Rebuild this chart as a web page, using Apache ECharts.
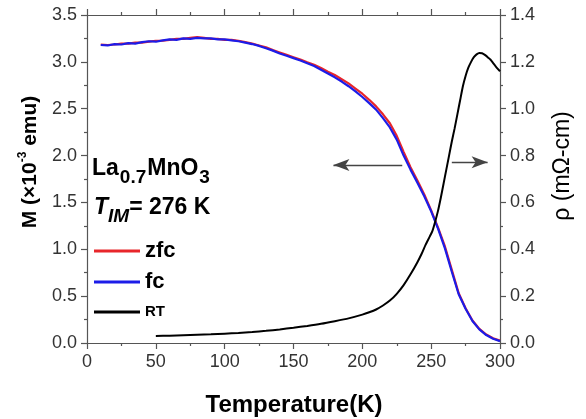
<!DOCTYPE html>
<html>
<head>
<meta charset="utf-8">
<script src="https://cdn.jsdelivr.net/npm/echarts@6/dist/echarts.min.js"></script>
<style>
html,body{margin:0;padding:0;background:#fff;}
#chart{width:586px;height:419px;}
</style>
</head>
<body>
<div id="chart"></div>
<script>
// Magnetization (zfc / fc) vs temperature, 10-300 K
const tempM = [10,15,20,25,30,35,40,45,50,55,60,65,70,75,80,85,90,95,100,105,110,115,120,125,130,135,140,145,150,155,160,165,170,175,180,185,190,195,200,205,210,215,220,225,230,235,240,245,250,255,260,265,270,275,280,285,290,295,300];
const mZfc = [3.185,3.180,3.185,3.195,3.195,3.205,3.205,3.215,3.225,3.225,3.235,3.245,3.245,3.255,3.265,3.255,3.245,3.245,3.235,3.235,3.225,3.210,3.195,3.175,3.155,3.125,3.100,3.075,3.050,3.025,2.995,2.970,2.935,2.895,2.860,2.815,2.770,2.715,2.660,2.595,2.525,2.440,2.345,2.210,2.040,1.875,1.735,1.585,1.415,1.230,1.030,0.780,0.530,0.370,0.240,0.150,0.090,0.050,0.025];
const mFc = [3.180,3.175,3.190,3.185,3.200,3.195,3.210,3.220,3.215,3.230,3.240,3.235,3.250,3.245,3.255,3.250,3.250,3.240,3.240,3.230,3.220,3.205,3.190,3.170,3.145,3.120,3.090,3.065,3.040,3.015,2.985,2.955,2.915,2.875,2.835,2.790,2.740,2.685,2.625,2.560,2.490,2.400,2.300,2.170,2.000,1.850,1.710,1.565,1.405,1.220,1.010,0.760,0.520,0.365,0.235,0.145,0.085,0.045,0.020];

// Resistivity vs temperature, 50-300 K
const tempRT = [50,60,70,80,90,100,110,120,130,140,150,160,170,180,190,200,205,210,215,220,225,230,235,240,243,246,249,251,253,255,257,259,261,263,265,267,269,271,273,275,277,279,281,283,285,287,289,291,293,295,297,300];
const rhoRT = [0.030,0.031,0.033,0.035,0.037,0.040,0.043,0.047,0.052,0.058,0.065,0.073,0.082,0.093,0.105,0.121,0.131,0.143,0.160,0.181,0.210,0.247,0.293,0.345,0.380,0.420,0.455,0.480,0.520,0.565,0.620,0.680,0.740,0.800,0.860,0.915,0.975,1.035,1.095,1.140,1.175,1.200,1.220,1.232,1.238,1.237,1.230,1.220,1.210,1.195,1.180,1.160];

const FONT = '"Liberation Sans", Arial, sans-serif';
const axisGray = '#555';
const labelGray = '#333';

const pairs = (xs, ys) => xs.map((x, i) => [x, ys[i]]);

// Lay out a run of text pieces (main text + subscripts) along a baseline
function textRun(x0, baseline, pieces) {
  const ctx = document.createElement('canvas').getContext('2d');
  const out = [];
  let x = x0;
  pieces.forEach(p => {
    const font = (p.italic ? 'italic ' : '') + 'bold ' + p.size + 'px ' + FONT;
    ctx.font = font;
    const w = ctx.measureText(p.t).width;
    out.push({
      type: 'text', x: x, y: baseline + (p.dy || 0) - 0.35 * p.size,
      style: { text: p.t, font: font, fill: '#000', textAlign: 'left', textVerticalAlign: 'middle' }
    });
    x += w + (p.gap || 0);
  });
  return out;
}

const chart = echarts.init(document.getElementById('chart'), null, { renderer: 'canvas' });

const tickCommon = {
  axisLine: { show: true, onZero: false, lineStyle: { color: axisGray, width: 1.2 } },
  axisTick: { show: true, inside: false, length: 6, lineStyle: { color: axisGray, width: 1.2 } },
  minorTick: { show: true, splitNumber: 2, length: 3, lineStyle: { color: axisGray, width: 1.2 } },
  splitLine: { show: false }
};
const tickLabel = { margin: 10, fontSize: 18, fontFamily: FONT, color: labelGray };

const option = {
  backgroundColor: '#fff',
  animation: false,
  grid: { left: 87, right: 86, top: 15, bottom: 76, containLabel: false },
  xAxis: [
    Object.assign({ type: 'value', min: 0, max: 300, interval: 50, position: 'bottom',
      axisLabel: tickLabel }, tickCommon),
    Object.assign({ type: 'value', min: 0, max: 300, interval: 50, position: 'top',
      axisLabel: { show: false } }, tickCommon)
  ],
  yAxis: [
    Object.assign({ type: 'value', min: 0, max: 3.5, interval: 0.5, position: 'left',
      axisLabel: Object.assign({ formatter: v => v.toFixed(1) }, tickLabel) }, tickCommon),
    Object.assign({ type: 'value', min: 0, max: 1.4, interval: 0.2, position: 'right',
      axisLabel: Object.assign({ formatter: v => v.toFixed(1) }, tickLabel) }, tickCommon)
  ],
  legend: {
    orient: 'vertical', left: 89, top: 235,
    icon: 'rect', itemWidth: 46, itemHeight: 3, itemGap: 9,
    data: ['zfc', 'fc', 'RT'],
    formatter: name => (name === 'RT' ? '{s|' + name + '}' : '{b|' + name + '}'),
    textStyle: {
      fontFamily: FONT, color: '#000', lineHeight: 20,
      rich: {
        b: { fontSize: 22, fontWeight: 'bold', fontFamily: FONT, color: '#000', lineHeight: 20 },
        s: { fontSize: 15, fontWeight: 'bold', fontFamily: FONT, color: '#000', lineHeight: 20 }
      }
    }
  },
  series: [
    {
      name: 'zfc', type: 'line', xAxisIndex: 0, yAxisIndex: 0,
      data: pairs(tempM, mZfc), showSymbol: false, symbol: 'none',
      lineStyle: { color: '#e8262b', width: 2.2 }, itemStyle: { color: '#e8262b' },
      markLine: {
        silent: true, symbol: ['none', 'arrow'], symbolSize: [9, 16],
        lineStyle: { color: '#444', width: 1.3, type: 'solid' },
        label: { show: false },
        data: [
          [{ coord: [229, 1.90] }, { coord: [179, 1.90] }],
          [{ coord: [265, 1.93] }, { coord: [291, 1.93] }]
        ]
      }
    },
    {
      name: 'fc', type: 'line', xAxisIndex: 0, yAxisIndex: 0,
      data: pairs(tempM, mFc), showSymbol: false, symbol: 'none',
      lineStyle: { color: '#1c1ce8', width: 2.2 }, itemStyle: { color: '#1c1ce8' }
    },
    {
      name: 'RT', type: 'line', xAxisIndex: 0, yAxisIndex: 1,
      data: pairs(tempRT, rhoRT), showSymbol: false, symbol: 'none', smooth: 0.2,
      lineStyle: { color: '#000', width: 2 }, itemStyle: { color: '#000' }
    }
  ],
  graphic: [
    {
      type: 'text', x: 294, y: 405,
      style: { text: 'Temperature(K)', font: 'bold 24px ' + FONT, fill: '#000', textAlign: 'center', textVerticalAlign: 'middle' }
    },
    {
      type: 'text', x: 30, y: 162, rotation: Math.PI / 2,
      style: {
        text: 'M (×10{sup|-3} emu)', font: 'bold 21px ' + FONT, fill: '#000',
        textAlign: 'center', textVerticalAlign: 'middle', lineHeight: 26,
        rich: { sup: { fontSize: 12, fontWeight: 'bold', fontFamily: FONT, fill: '#000', verticalAlign: 'top', lineHeight: 14 } }
      }
    },
    {
      type: 'text', x: 563, y: 166, rotation: Math.PI / 2,
      style: { text: 'ρ (mΩ-cm)', font: '23px ' + FONT, fill: '#000', textAlign: 'center', textVerticalAlign: 'middle' }
    }
  ].concat(
    textRun(92, 177, [
      { t: 'La', size: 23, gap: 1 }, { t: '0.7', size: 19, dy: 7, gap: 1 },
      { t: 'MnO', size: 23, gap: 1 }, { t: '3', size: 19, dy: 7 }
    ]),
    textRun(94, 216, [
      { t: 'T', size: 23, italic: true }, { t: 'IM', size: 19, italic: true, dy: 7 },
      { t: '= 276 K', size: 23 }
    ])
  )
};

chart.setOption(option);
</script>
</body>
</html>
